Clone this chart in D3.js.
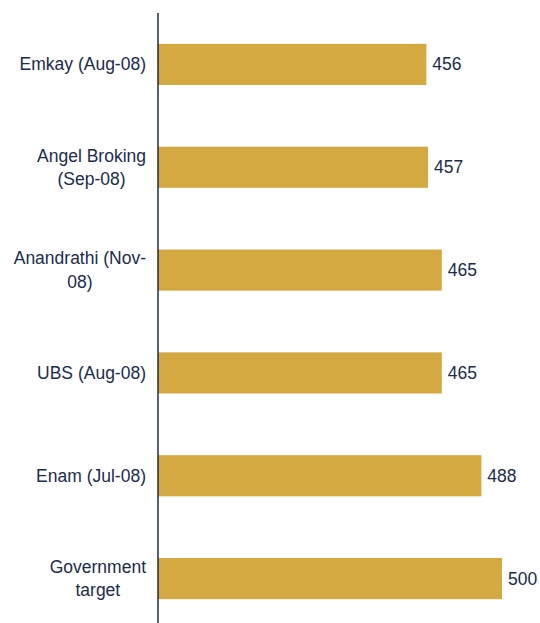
<!DOCTYPE html>
<html>
<head>
<meta charset="utf-8">
<script src="https://cdn.jsdelivr.net/npm/d3@7"></script>
<style>
  html, body { margin: 0; padding: 0; background: #fff; }
  svg { display: block; }
  text { font-family: "Liberation Sans", Arial, sans-serif; fill: #1c2c4c; }
</style>
</head>
<body>
<script>
// brokers' estimates, top to bottom
var brokers = [
  ["Emkay (Aug-08)"],
  ["Angel Broking", "(Sep-08)"],
  ["Anandrathi (Nov-", "08)"],
  ["UBS (Aug-08)"],
  ["Enam (Jul-08)"],
  ["Government", "target"]
];
var estimates = [456, 457, 465, 465, 488, 500];
var xDomain = [300, 500];

var W = 540, H = 623;
var fs = "17.5px";

var svg = d3.select("body").append("svg")
  .attr("width", W)
  .attr("height", H);

var x = d3.scaleLinear().domain(xDomain).range([158, 502]);
var y = d3.scaleBand()
  .domain(d3.range(estimates.length))
  .range([13, 630])
  .paddingInner(0.6)
  .paddingOuter(0.3);

var rows = brokers.map(function (b, i) { return { lines: b, value: estimates[i], i: i }; });

// bars
svg.selectAll("rect.bar").data(rows).enter()
  .append("rect")
  .attr("class", "bar")
  .attr("x", x(xDomain[0]))
  .attr("y", function (d) { return y(d.i); })
  .attr("width", function (d) { return x(d.value) - x(xDomain[0]); })
  .attr("height", y.bandwidth())
  .attr("fill", "#d4a942");

// value labels
svg.selectAll("text.val").data(rows).enter()
  .append("text")
  .attr("class", "val")
  .attr("x", function (d) { return x(d.value) + 6; })
  .attr("y", function (d) { return y(d.i) + y.bandwidth() / 2 + 6; })
  .style("font-size", fs)
  .text(function (d) { return d.value; });

// category labels: lines centred on each other, block right-aligned
var lineH = 23.5, rightEdge = 146;
var labels = svg.selectAll("g.cat").data(rows).enter()
  .append("g")
  .attr("class", "cat");

labels.each(function (d) {
  var g = d3.select(this);
  var mid = y(d.i) + y.bandwidth() / 2;
  var n = d.lines.length;
  var ts = g.selectAll("text").data(d.lines).enter()
    .append("text")
    .style("font-size", fs)
    .attr("text-anchor", "middle")
    .attr("y", function (t, k) { return mid + 6 + (k - (n - 1) / 2) * lineH; })
    .text(function (t) { return t; });
  var maxW = 0;
  ts.each(function () { maxW = Math.max(maxW, this.getComputedTextLength()); });
  ts.attr("x", rightEdge - maxW / 2);
});

// vertical axis line
svg.append("line")
  .attr("x1", x(xDomain[0])).attr("x2", x(xDomain[0]))
  .attr("y1", 13).attr("y2", 630)
  .attr("stroke", "#1c2c4c")
  .attr("stroke-width", 1.5);
</script>
</body>
</html>
